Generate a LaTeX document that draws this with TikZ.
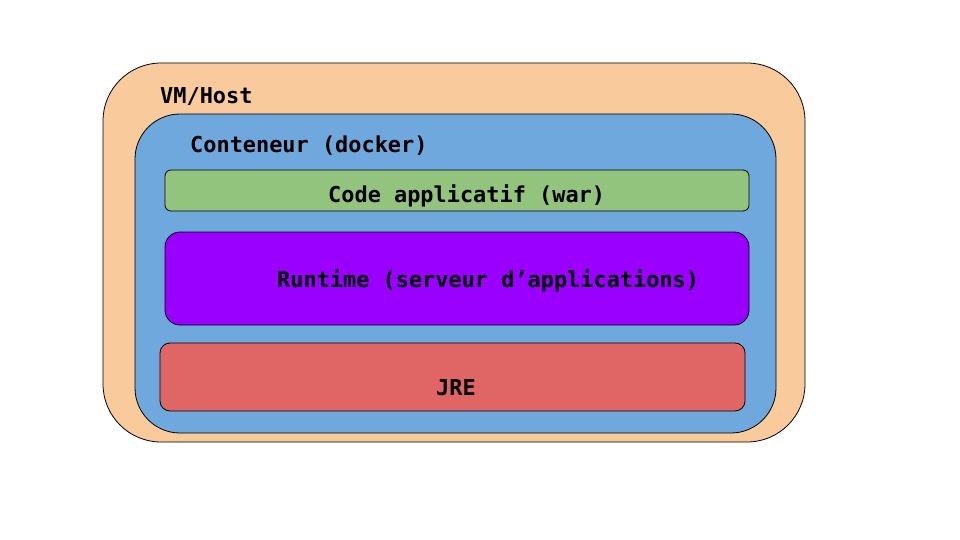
\documentclass[tikz,border=0pt]{standalone}
\usepackage{fontspec}
\setmonofont{DejaVu Sans Mono}
\definecolor{peach}{HTML}{F9CB9C}
\definecolor{bluebox}{HTML}{6FA8DC}
\definecolor{greenbox}{HTML}{93C47D}
\definecolor{purplebox}{HTML}{9900FF}
\definecolor{redbox}{HTML}{E06666}
\begin{document}
\begin{tikzpicture}[x=1pt,y=-1pt,
  layer/.style={draw=black, line width=0.8pt, inner sep=0pt, outer sep=0pt},
  lbl/.style={font=\fontsize{21.9}{24}\selectfont\ttfamily\bfseries, inner sep=0pt, anchor=base west}]
\useasboundingbox (0,0) rectangle (960,540);
\node[layer, fill=peach, rounded corners=58pt, minimum width=702pt, minimum height=379pt] (host) at (454,252.5) {};
\node[layer, fill=bluebox, rounded corners=45pt, minimum width=641pt, minimum height=319pt] (cont) at (455.5,273.5) {};
\node[layer, fill=greenbox, rounded corners=6pt, minimum width=584pt, minimum height=41pt] (code) at (457,190.5) {};
\node[layer, fill=purplebox, rounded corners=15pt, minimum width=584pt, minimum height=93pt] (runtime) at (457,278.5) {};
\node[layer, fill=redbox, rounded corners=10pt, minimum width=585pt, minimum height=68pt] (jre) at (452.5,377) {};
\node[lbl] (thost) at (160,104) {VM/Host};
\node[lbl] (tcont) at (190,153) {Conteneur (docker)};
\node[lbl] (tcode) at (328,202) {Code applicatif (war)};
\node[lbl] (trun) at (277,287) {Runtime (serveur d’applications)};
\node[lbl] (tjre) at (436,395) {JRE};
\end{tikzpicture}
\end{document}
